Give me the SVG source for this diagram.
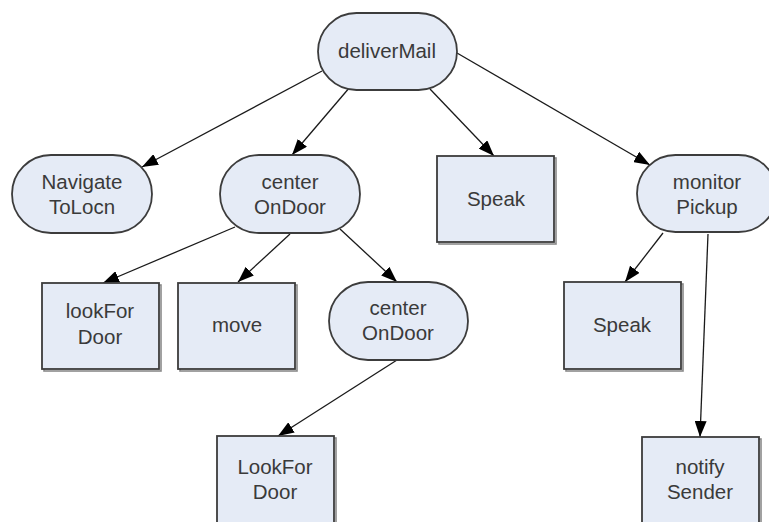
<svg xmlns="http://www.w3.org/2000/svg" width="769" height="522" viewBox="0 0 769 522">
  <style>
    .shape { fill: #e5ebf6; stroke: #3c3c3c; stroke-width: 1.8; }
    .shadow { fill: none; stroke: #8a8a8a; stroke-width: 1.6; }
    .label { font-family: "Liberation Sans", Arial, sans-serif; font-size: 20.5px; fill: #3a3a3a; text-anchor: middle; }
    .edge { fill: none; stroke: #1a1a1a; stroke-width: 1.3; marker-end: url(#arrow); }
  </style>
  <defs>
    <marker id="arrow" viewBox="0 0 16 12" refX="16" refY="6" markerWidth="16" markerHeight="12" markerUnits="userSpaceOnUse" orient="auto">
      <path d="M0,0 L16,6 L0,12 Z" fill="#000"/>
    </marker>
  </defs>
  <rect width="769" height="522" fill="#ffffff"/>

  <!-- connectors -->
  <g id="connectors">
    <line class="edge" x1="322" y1="71" x2="142" y2="167"/>
    <line class="edge" x1="350" y1="87" x2="292" y2="155"/>
    <line class="edge" x1="430" y1="89" x2="494" y2="156"/>
    <line class="edge" x1="457" y1="53" x2="650" y2="165"/>
    <line class="edge" x1="235" y1="227" x2="103" y2="283"/>
    <line class="edge" x1="290" y1="234" x2="238" y2="282"/>
    <line class="edge" x1="340" y1="229" x2="397" y2="282"/>
    <line class="edge" x1="397" y1="360" x2="278" y2="436"/>
    <line class="edge" x1="663" y1="233" x2="625" y2="282"/>
    <line class="edge" x1="708" y1="234" x2="700" y2="437"/>
  </g>

  <!-- nodes -->
  <g id="deliverMail">
    <rect class="shape" x="318" y="13" width="139" height="77" rx="38.5"/>
    <text class="label" x="387" y="58">deliverMail</text>
  </g>
  <g id="navigateToLocn">
    <rect class="shape" x="12" y="155" width="140" height="78" rx="39"/>
    <text class="label" x="82" y="189">Navigate</text>
    <text class="label" x="82" y="214">ToLocn</text>
  </g>
  <g id="centerOnDoor">
    <rect class="shape" x="220" y="155" width="140" height="78" rx="39"/>
    <text class="label" x="290" y="189">center</text>
    <text class="label" x="290" y="214">OnDoor</text>
  </g>
  <g id="speak">
    <rect class="shadow" x="439" y="158" width="117" height="86"/>
    <rect class="shape" x="437" y="156" width="117" height="86"/>
    <text class="label" x="496" y="206">Speak</text>
  </g>
  <g id="monitorPickup">
    <rect class="shape" x="637" y="155" width="140" height="77" rx="38.5"/>
    <text class="label" x="707" y="189">monitor</text>
    <text class="label" x="707" y="214">Pickup</text>
  </g>
  <g id="lookForDoor">
    <rect class="shadow" x="44" y="285" width="117" height="86"/>
    <rect class="shape" x="42" y="283" width="117" height="86"/>
    <text class="label" x="100" y="318">lookFor</text>
    <text class="label" x="100" y="344">Door</text>
  </g>
  <g id="move">
    <rect class="shadow" x="180" y="285" width="117" height="86"/>
    <rect class="shape" x="178" y="283" width="117" height="86"/>
    <text class="label" x="237" y="332">move</text>
  </g>
  <g id="centerOnDoorInner">
    <rect class="shape" x="329" y="282" width="139" height="78" rx="39"/>
    <text class="label" x="398" y="315">center</text>
    <text class="label" x="398" y="340">OnDoor</text>
  </g>
  <g id="speakPickup">
    <rect class="shadow" x="566" y="284" width="117" height="87"/>
    <rect class="shape" x="564" y="282" width="117" height="87"/>
    <text class="label" x="622" y="332">Speak</text>
  </g>
  <g id="lookForDoorInner">
    <rect class="shadow" x="219" y="438" width="117" height="100"/>
    <rect class="shape" x="217" y="436" width="117" height="100"/>
    <text class="label" x="275" y="474">LookFor</text>
    <text class="label" x="275" y="499">Door</text>
  </g>
  <g id="notifySender">
    <rect class="shadow" x="644" y="439" width="117" height="100"/>
    <rect class="shape" x="642" y="437" width="117" height="100"/>
    <text class="label" x="700" y="474">notify</text>
    <text class="label" x="700" y="499">Sender</text>
  </g>
</svg>
